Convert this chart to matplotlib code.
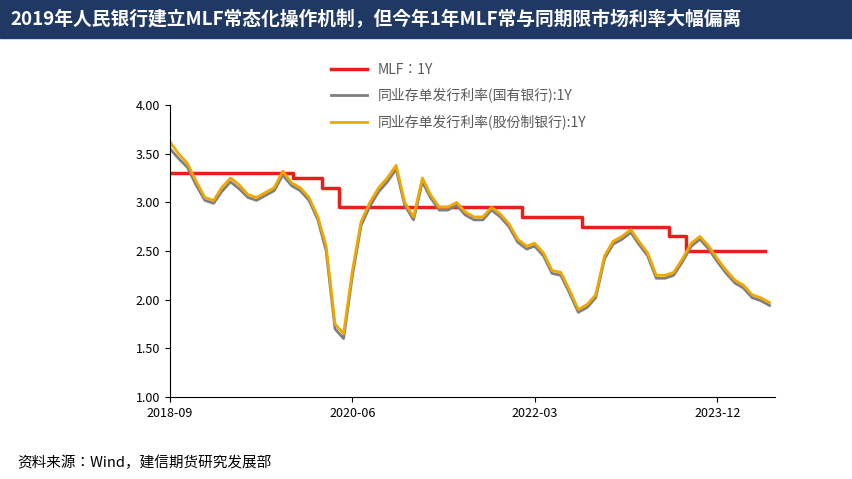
import numpy as np
import pandas as pd
import matplotlib.pyplot as plt
from matplotlib.patches import Rectangle

plt.rcParams["font.family"] = ["Noto Sans CJK JP", "Noto Sans CJK SC", "DejaVu Sans"]

TITLE = "2019年人民银行建立MLF常态化操作机制，但今年1年MLF常与同期限市场利率大幅偏离"
SOURCE = "资料来源：Wind，建信期货研究发展部"
LABELS = ["MLF：1Y", "同业存单发行利率(国有银行):1Y", "同业存单发行利率(股份制银行):1Y"]

# monthly NCD rates, 2018-09 .. 2024-06
ncd_months = pd.date_range("2018-09-01", "2024-06-01", freq="MS")
ncd_joint = [3.62, 3.50, 3.40, 3.22, 3.05, 3.02, 3.15, 3.25, 3.18, 3.08, 3.05, 3.10,
             3.15, 3.32, 3.20, 3.15, 3.05, 2.85, 2.55, 1.75, 1.65, 2.30, 2.80, 3.00,
             3.15, 3.25, 3.38, 3.00, 2.85, 3.25, 3.08, 2.95, 2.95, 3.00, 2.90, 2.85,
             2.85, 2.95, 2.88, 2.78, 2.62, 2.55, 2.58, 2.48, 2.30, 2.28, 2.10, 1.90,
             1.95, 2.05, 2.45, 2.60, 2.65, 2.72, 2.60, 2.48, 2.25, 2.25, 2.28, 2.42,
             2.58, 2.65, 2.55, 2.42, 2.30, 2.20, 2.15, 2.05, 2.02, 1.97]
ncd_state = [3.55, 3.45, 3.36, 3.18, 3.02, 2.99, 3.11, 3.21, 3.14, 3.05, 3.02, 3.07,
             3.12, 3.28, 3.17, 3.12, 3.02, 2.82, 2.50, 1.70, 1.60, 2.25, 2.76, 2.96,
             3.11, 3.21, 3.34, 2.97, 2.82, 3.21, 3.05, 2.92, 2.92, 2.97, 2.87, 2.82,
             2.82, 2.92, 2.85, 2.75, 2.59, 2.52, 2.55, 2.45, 2.27, 2.25, 2.07, 1.87,
             1.92, 2.02, 2.42, 2.57, 2.62, 2.69, 2.57, 2.45, 2.22, 2.22, 2.25, 2.39,
             2.55, 2.62, 2.52, 2.39, 2.27, 2.17, 2.12, 2.02, 1.99, 1.94]

# MLF 1Y step changes
mlf_dates = pd.to_datetime(["2018-09-01", "2019-11-05", "2020-02-17", "2020-04-15",
                            "2022-01-17", "2022-08-15", "2023-06-15", "2023-08-15",
                            "2024-05-15"])
mlf_rate = [3.30, 3.25, 3.15, 2.95, 2.85, 2.75, 2.65, 2.50, 2.50]

fig = plt.figure(figsize=(8.52, 4.79), dpi=100)
fig.patches.append(Rectangle((0, 1 - 38 / 479), 1, 38 / 479, transform=fig.transFigure,
                             color="#1f3864", zorder=0))
fig.text(0.012, 1 - 19 / 479, TITLE, color="white", fontsize=13.5, fontweight="bold",
         va="center", ha="left")
fig.text(0.02, 1 - 463 / 479, SOURCE, fontsize=10.5, style="italic", va="center")

ax = fig.add_axes([170 / 852, 1 - 397 / 479, 605 / 852, 292 / 479])
ax.step(mlf_dates, mlf_rate, where="post", color="#e8201c", lw=2.5, label=LABELS[0])
ax.plot(ncd_months, ncd_state, color="#7f7f7f", lw=2, label=LABELS[1])
ax.plot(ncd_months, ncd_joint, color="#f0a800", lw=2, label=LABELS[2])

ax.set_ylim(1.0, 4.0)
ax.set_yticks(np.arange(1.0, 4.01, 0.5))
ax.yaxis.set_major_formatter(plt.FormatStrFormatter("%.2f"))
ax.set_xlim(pd.Timestamp("2018-09-01"), pd.Timestamp("2024-06-20"))
ticks = pd.to_datetime(["2018-09-01", "2020-06-01", "2022-03-01", "2023-12-01"])
ax.set_xticks(ticks)
ax.set_xticklabels([t.strftime("%Y-%m") for t in ticks])
ax.tick_params(labelsize=9, direction="out")
for s in ["top", "right"]:
    ax.spines[s].set_visible(False)

fig.legend(loc="upper left", bbox_to_anchor=(318 / 852, 1 - 50 / 479), frameon=False,
           fontsize=10, handlelength=2.6, labelspacing=0.85, labelcolor="#595959")

fig.savefig("out.png", dpi=100)
